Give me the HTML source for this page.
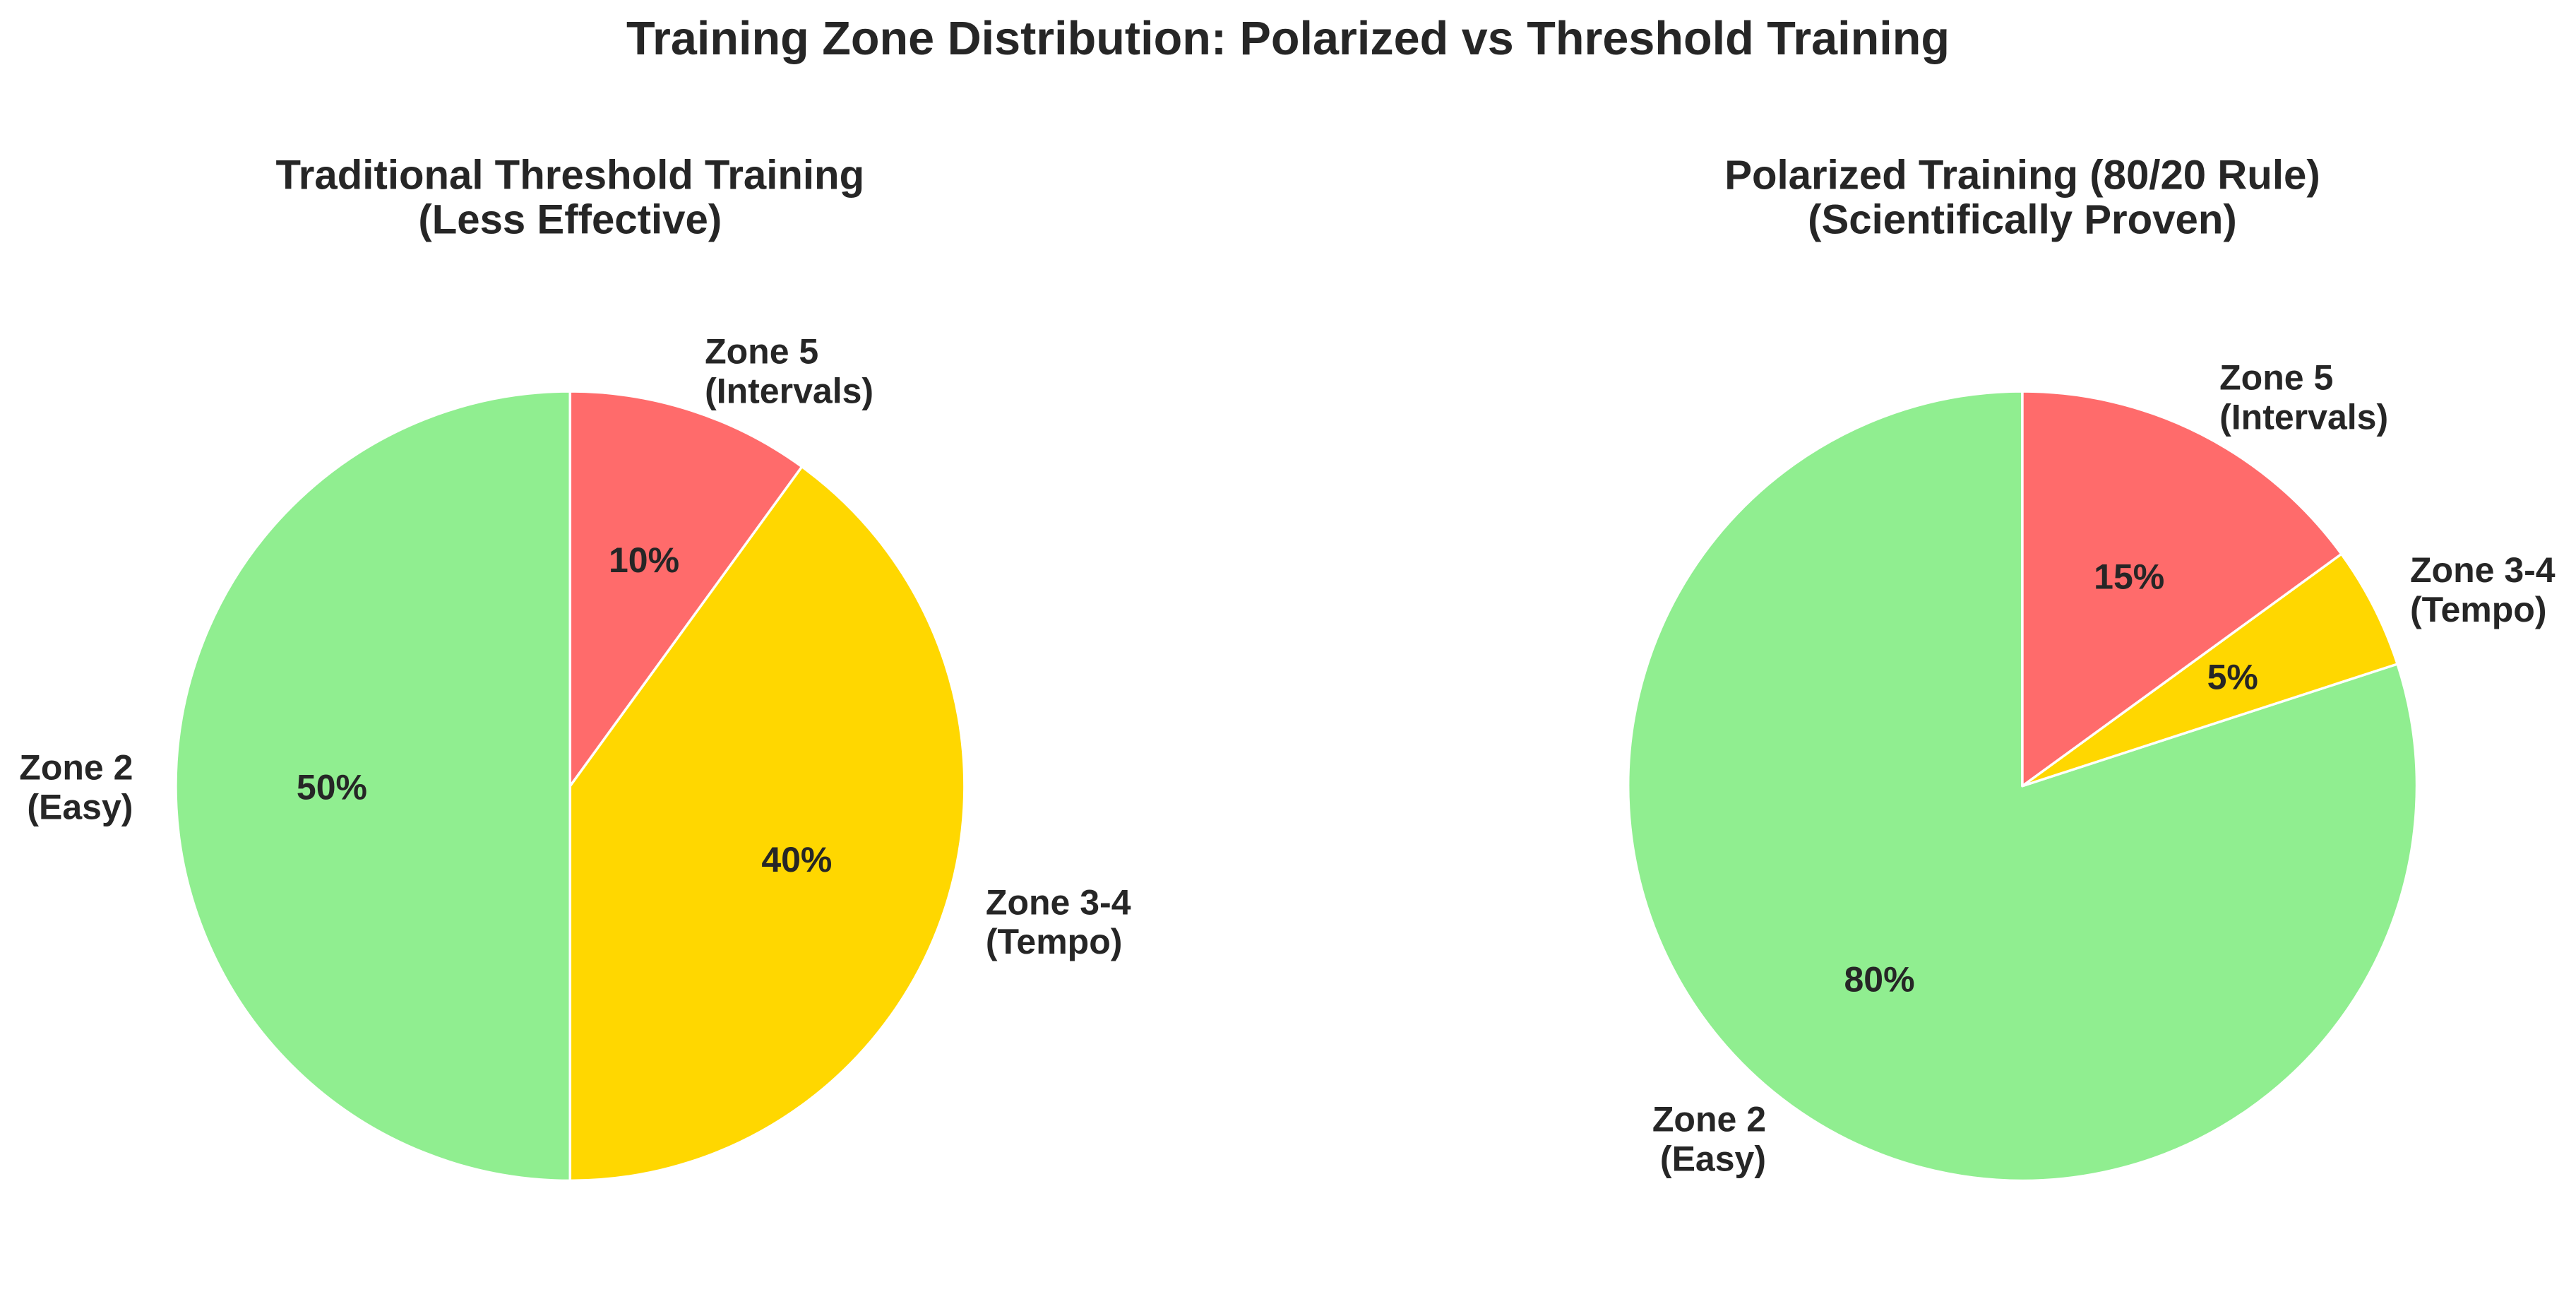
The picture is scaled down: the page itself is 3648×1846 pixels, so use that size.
<!DOCTYPE html>
<html><head><meta charset="utf-8"><style>
html,body{margin:0;padding:0;background:#fff;}
svg{display:block;}
text{font-family:"Liberation Sans",Arial,sans-serif;font-weight:bold;fill:#262626;}
</style></head><body>
<svg width="3648" height="1846" viewBox="0 0 1568 793" preserveAspectRatio="none" xmlns="http://www.w3.org/2000/svg">
<rect width="1568" height="793" fill="#fff"/>
<text x="784" y="33" font-size="28.6" text-anchor="middle">Training Zone Distribution: Polarized vs Threshold Training</text>
<text x="347" y="115" font-size="25" text-anchor="middle">Traditional Threshold Training</text>
<text x="347" y="142" font-size="25" text-anchor="middle">(Less Effective)</text>
<text x="1231" y="115" font-size="25" text-anchor="middle">Polarized Training (80/20 Rule)</text>
<text x="1231" y="142" font-size="25" text-anchor="middle">(Scientifically Proven)</text>
<g stroke="#fff" stroke-width="1.5" stroke-linejoin="round">
<path d="M347,478 L347,238 A240,240 0 0 0 347,718 Z" fill="#90EE90"/>
<path d="M347,478 L347,718 A240,240 0 0 0 488.1,283.8 Z" fill="#FFD700"/>
<path d="M347,478 L488.1,283.8 A240,240 0 0 0 347,238 Z" fill="#FF6B6B"/>
<path d="M1231,478 L1231,238 A240,240 0 1 0 1459.3,403.8 Z" fill="#90EE90"/>
<path d="M1231,478 L1459.3,403.8 A240,240 0 0 0 1425.2,336.9 Z" fill="#FFD700"/>
<path d="M1231,478 L1425.2,336.9 A240,240 0 0 0 1231,238 Z" fill="#FF6B6B"/>
</g>
<g font-size="21.5">
<text x="429" y="221">Zone 5</text>
<text x="429" y="245">(Intervals)</text>
<text x="600" y="556">Zone 3-4</text>
<text x="600" y="580">(Tempo)</text>
<text x="81" y="474" text-anchor="end">Zone 2</text>
<text x="81" y="498" text-anchor="end">(Easy)</text>
<text x="1351" y="237">Zone 5</text>
<text x="1351" y="261">(Intervals)</text>
<text x="1467" y="354">Zone 3-4</text>
<text x="1467" y="378">(Tempo)</text>
<text x="1075" y="688" text-anchor="end">Zone 2</text>
<text x="1075" y="712" text-anchor="end">(Easy)</text>
</g>
<g font-size="21.5" text-anchor="middle">
<text x="392" y="348">10%</text>
<text x="485" y="530">40%</text>
<text x="202" y="486">50%</text>
<text x="1296" y="358">15%</text>
<text x="1359" y="419">5%</text>
<text x="1144" y="603">80%</text>
</g>
</svg>
</body></html>
